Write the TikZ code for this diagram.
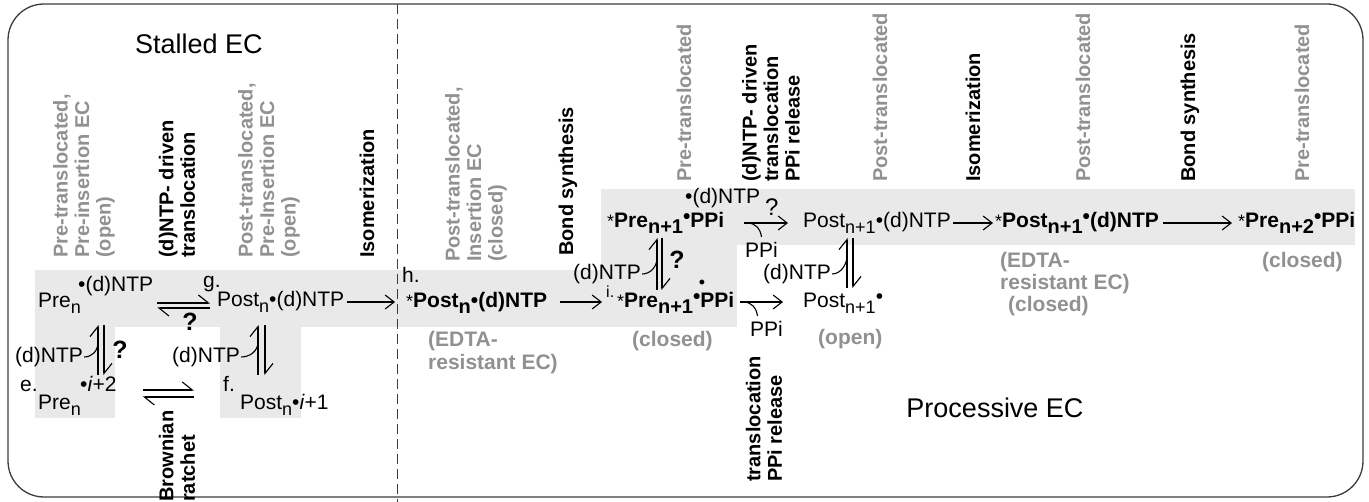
\documentclass[tikz,border=0pt]{standalone}
\usepackage{fontspec}
\setmainfont{Liberation Sans}
\usetikzlibrary{arrows.meta,calc}
\definecolor{bandgray}{RGB}{232,233,232}
\definecolor{gtxt}{RGB}{145,145,145}
\definecolor{framecol}{RGB}{60,60,60}
\newcommand\sbs[1]{\raisebox{-6pt}{\fontsize{18}{18}\selectfont #1}}
\newcommand\sbb[1]{\raisebox{-6pt}{\fontsize{20}{20}\selectfont #1}}
\newcommand\rb{\raisebox{4pt}{•}}
\newcommand\astk{{\mdseries\fontsize{18}{18}\selectfont *}}
\begin{document}
\begin{tikzpicture}[x=1pt,y=-1pt,
  t/.style={font=\fontsize{21}{23}\selectfont, inner sep=0pt, anchor=base west},
  tb/.style={t, font=\fontsize{21}{23}\selectfont\bfseries},
  gl/.style={tb, text=gtxt},
  rotlab/.style={rotate=90, anchor=west, align=left, inner sep=0pt, font=\fontsize{20}{21.5}\selectfont\bfseries},
  rotgray/.style={rotlab, text=gtxt},
  qb/.style={inner sep=0pt, font=\fontsize{25}{25}\selectfont\bfseries},
  title/.style={inner sep=0pt, font=\fontsize{27}{30}\selectfont},
  conn/.style={line width=1.1pt, black},
  arr/.style={conn, -{Straight Barb[length=9pt,width=14pt]}},
  harp/.style={conn, -{Straight Barb[left,length=10pt,width=16pt]}},
]
\useasboundingbox (0,0) rectangle (1369,502);
% gray bands
\fill[bandgray] (35,270) rectangle (737,327);
\fill[bandgray] (35,326) rectangle (115,418);
\fill[bandgray] (220,326) rectangle (301,418);
\fill[bandgray] (601,189) rectangle (1355,245);
\fill[bandgray] (601,244) rectangle (737,271);
% frame and divider
\draw[framecol, line width=1.3pt, rounded corners=36pt] (8,4) rectangle (1363,497);
\draw[framecol, line width=1pt, dash pattern=on 10pt off 5pt] (397,4) -- (397,502);

% titles
\node[title] (stalled) at (199,44) {Stalled EC};
\node[title] (proc) at (995,408) {Processive EC};

% rotated labels
\node[rotgray] (la) at (84,258) {Pre-translocated,\\Pre-insertion EC\\(open)};
\node[rotlab] (lb) at (177,258) {(d)NTP- driven\\translocation};
\node[rotgray] (lc) at (269,258) {Post-translocated,\\Pre-Insertion EC\\(open)};
\node[rotlab] (ld) at (367,258) {Isomerization};
\node[rotgray] (le) at (476,262) {Post-translocated,\\Insertion EC\\(closed)};
\node[rotlab] (lf) at (568,256) {Bond synthesis};
\node[rotgray] (lg) at (684,182) {Pre-translocated};
\node[rotlab] (lh) at (771,182) {(d)NTP- driven\\translocation\\PPi release};
\node[rotgray] (li) at (880,182) {Post-translocated};
\node[rotlab] (lj) at (973,182) {Isomerization};
\node[rotgray] (lk) at (1083,182) {Post-translocated};
\node[rotlab] (ll) at (1190,182) {Bond synthesis};
\node[rotgray] (lm) at (1302,182) {Pre-translocated};
\node[rotlab] (ln) at (177,502) {Brownian\\ratchet};
\node[rotlab] (lo) at (764,482) {translocation\\PPi release};

% stalled EC species
\node[t] (preA) at (38,308) {Pre\sbs{n}};
\node[t] (ntpA) at (78,292) {•(d)NTP};
\node[t] (gLab) at (203,288) {g.};
\node[t] (postA) at (217,307) {Post\sbs{n}•(d)NTP};
\node[t] (ntpL1) at (15,363) {(d)NTP};
\node[t] (ntpL2) at (172,363) {(d)NTP};
\node[t] (eLab) at (20,392) {e.};
\node[t] (iA) at (80,392) {•\textit{i}+2};
\node[t] (preE) at (38,410) {Pre\sbs{n}};
\node[t] (fLab) at (223,392) {f.};
\node[t] (postF) at (240,410) {Post\sbs{n}•\textit{i}+1};
\node[qb] (q1) at (190,322) {?};
\node[qb] (q2) at (120,350) {?};

% processive EC species
\node[t] (hLab) at (402,283) {h.};
\node[tb] (postB) at (406,308) {\astk Post\sbb{n}•(d)NTP};
\node[t, font=\fontsize{16}{16}\selectfont] (iLab) at (606,298) {i.};
\node[tb] (preB) at (617,308) {\astk Pre\sbb{n+1}\rb PPi};
\node[inner sep=0pt, font=\fontsize{18}{18}\selectfont] (dotB) at (702,284) {•};
\node[tb] (preC) at (607,228) {\astk Pre\sbb{n+1}\rb PPi};
\node[t] (ntpC) at (685,204) {•(d)NTP};
\node[t, font=\fontsize{24}{24}\selectfont] (qC) at (765,216) {?};
\node[t] (ntpB) at (573,280) {(d)NTP};
\node[qb] (q3) at (677,260) {?};
\node[t] (ppiU) at (745,258) {PPi};
\node[t] (postC) at (803,228) {Post\sbs{n+1}•(d)NTP};
\node[t] (ntpE) at (763,280) {(d)NTP};
\node[t] (ppiL) at (750,337) {PPi};
\node[t] (postE) at (803,308) {Post\sbs{n+1}\rb};
\node[tb] (postD) at (995,228) {\astk Post\sbb{n+1}\rb(d)NTP};
\node[tb] (preD) at (1238,228) {\astk Pre\sbb{n+2}\rb PPi};

% gray state labels
\node[gl] (edtaA1) at (428,347) {(EDTA-};
\node[gl] (edtaA2) at (428,370) {resistant EC)};
\node[gl] (closedB) at (632,347) {(closed)};
\node[gl] (openE) at (818,345) {(open)};
\node[gl] (edtaD1) at (1000,268) {(EDTA-};
\node[gl] (edtaD2) at (1000,290) {resistant EC)};
\node[gl] (closedD) at (1008,312) {(closed)};
\node[gl] (closedP) at (1262,268) {(closed)};

% simple arrows
\draw[arr] ($(postA.base east)+(3,-5)$) -- ($(postA.base east -| hLab.west)+(-7,-5)$);
\draw[arr] ($(postB.base east)+(13,-6)$) -- ($(postB.base east -| iLab.west)+(-4,-6)$);
\draw[arr] ($(postC.base east)+(2,-5)$) -- ($(postC.base east -| postD.west)+(-2,-5)$);
\draw[arr] ($(postD.base east)+(4,-5)$) -- ($(postD.base east -| preD.west)+(-6,-5)$);
% arrows with PPi release
\draw[arr] ($(preB.base east)+(6,-6)$) coordinate (a3s) -- ($(preB.base east -| postE.west)+(-20,-6)$);
\draw[conn] ($(a3s)+(3,0)$) .. controls ($(a3s)+(11,0)$) and ($(a3s)+(16,6)$) .. ($(a3s)+(17,14)$);
\draw[arr] ($(preC.base east)+(20,-5)$) coordinate (a4s) -- ($(preC.base east -| postC.west)+(-15,-5)$);
\draw[conn] ($(a4s)+(3,0)$) .. controls ($(a4s)+(11,0)$) and ($(a4s)+(16,6)$) .. ($(a4s)+(17,14)$);

% equilibrium harpoons
\coordinate (e1l) at ($(ntpA.base east)+(4,11)$);
\coordinate (e1r) at ($(postA.base west)+(-7,-4)$);
\draw[harp] (e1l) -- (e1l -| e1r);
\draw[harp] ($(e1l -| e1r)+(0,5)$) -- ($(e1l)+(0,5)$);

\coordinate (bl) at ($(iA.base east)+(26,-2)$);
\draw[harp] (bl) -- ++(51,0) coordinate (br);
\draw[harp] ($(br)+(0,7)$) -- ($(bl)+(0,7)$);

% vertical equilibria
\coordinate (v1t) at ($(preA.base west)+(60,17)$);
\coordinate (v1b) at ($(iA.base west)+(18,-17)$);
\draw[harp] (v1b -| v1t) -- (v1t);
\draw[harp] ($(v1t)+(6,0)$) -- ($(v1b -| v1t)+(6,0)$);
\draw[conn] ($(ntpL1.base east)+(1,-6)$) .. controls ($(ntpL1.base east)+(9,-6)$) and ($(v1t)+(0,26)$) .. ($(v1t)+(0,17)$);

\coordinate (v2t) at ($(postA.base west)+(41,18)$);
\coordinate (v2b) at ($(postF.base west)+(18,-35)$);
\draw[harp] (v2b -| v2t) -- (v2t);
\draw[harp] ($(v2t)+(7,0)$) -- ($(v2b -| v2t)+(7,0)$);
\draw[conn] ($(ntpL2.base east)+(1,-6)$) .. controls ($(ntpL2.base east)+(10,-6)$) and ($(v2t)+(0,26)$) .. ($(v2t)+(0,17)$);

\coordinate (v3t) at ($(preC.base west)+(50,10)$);
\coordinate (v3b) at ($(preB.base west)+(40,-18)$);
\draw[harp] (v3b -| v3t) -- (v3t);
\draw[harp] ($(v3t)+(5,0)$) -- ($(v3b -| v3t)+(5,0)$);
\draw[conn] ($(ntpB.base east)+(1,-6)$) .. controls ($(ntpB.base east)+(10,-6)$) and ($(v3t)+(0,28)$) .. ($(v3t)+(0,20)$);

\coordinate (v4t) at ($(postC.base west)+(44,10)$);
\coordinate (v4b) at ($(postE.base west)+(44,-20)$);
\draw[harp] (v4b) -- (v4t);
\draw[harp] ($(v4t)+(6,0)$) -- ($(v4b)+(6,0)$);
\draw[conn] ($(ntpE.base east)+(1,-6)$) .. controls ($(ntpE.base east)+(10,-6)$) and ($(v4t)+(0,26)$) .. ($(v4t)+(0,18)$);
\end{tikzpicture}
\end{document}
